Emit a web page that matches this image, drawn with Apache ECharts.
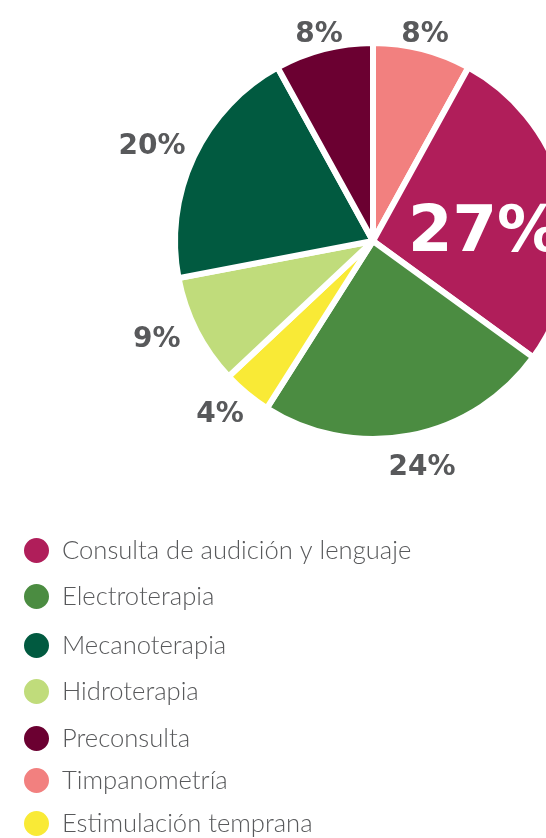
<!DOCTYPE html>
<html><head><meta charset="utf-8">
<script src="https://cdn.jsdelivr.net/npm/echarts@6/dist/echarts.min.js"></script>
<style>html,body{margin:0;padding:0;background:#fff}#c{width:546px;height:838px}</style>
</head><body><div id="c"></div>
<script>
// pie order (clockwise from 12 o'clock)
const categories = ['Timpanometría','Consulta de audición y lenguaje','Electroterapia','Estimulación temprana','Hidroterapia','Mecanoterapia','Preconsulta'];
const values = [8, 27, 24, 4, 9, 20, 8];
const colors = ['#f2807f','#b01e5a','#4b8c41','#f9ea36','#c0dc7b','#015a40','#6b0031'];
// legend order
const legendOrder = ['Consulta de audición y lenguaje','Electroterapia','Mecanoterapia','Hidroterapia','Preconsulta','Timpanometría','Estimulación temprana'];

// label nudges (styling only)
const labelOffsets = [[-30,-7],[12,16],[-30,24],[9,15],[-2,5],[6,-7],[28,-7]];

const legendTops = [536, 582, 631, 677, 724, 766, 809];
const legends = legendOrder.map((n,i)=>({
  data:[n], orient:'vertical', left:22, top:legendTops[i], padding:0,
  icon:'circle', itemWidth:27, itemHeight:27, selectedMode:false,
  textStyle:{fontFamily:'Lato', fontWeight:300, fontSize:25.6, color:'#58595b', padding:[0,0,0,7]}
}));

const data = categories.map((n,i)=>{
  const d = {name:n, value:values[i], itemStyle:{color:colors[i]}, label:{offset:labelOffsets[i]}};
  if (n==='Consulta de audición y lenguaje') {
    d.label = {position:'inside', color:'#fff', fontSize:64, offset:labelOffsets[i]};
  }
  return d;
});

const chart = echarts.init(document.getElementById('c'));
chart.setOption({
  animation:false,
  legend: legends,
  series:[{
    type:'pie', center:[373,241], radius:[0,198], startAngle:90, clockwise:true,
    avoidLabelOverlap:false,
    itemStyle:{borderColor:'#fff', borderWidth:6},
    label:{show:true, position:'outside', formatter:'{c}%', fontFamily:'DejaVu Sans', fontWeight:'bold', fontSize:28, color:'#58595b'},
    labelLine:{show:false, length:8, length2:2},
    emphasis:{disabled:true},
    data:data
  }]
});
</script></body></html>
